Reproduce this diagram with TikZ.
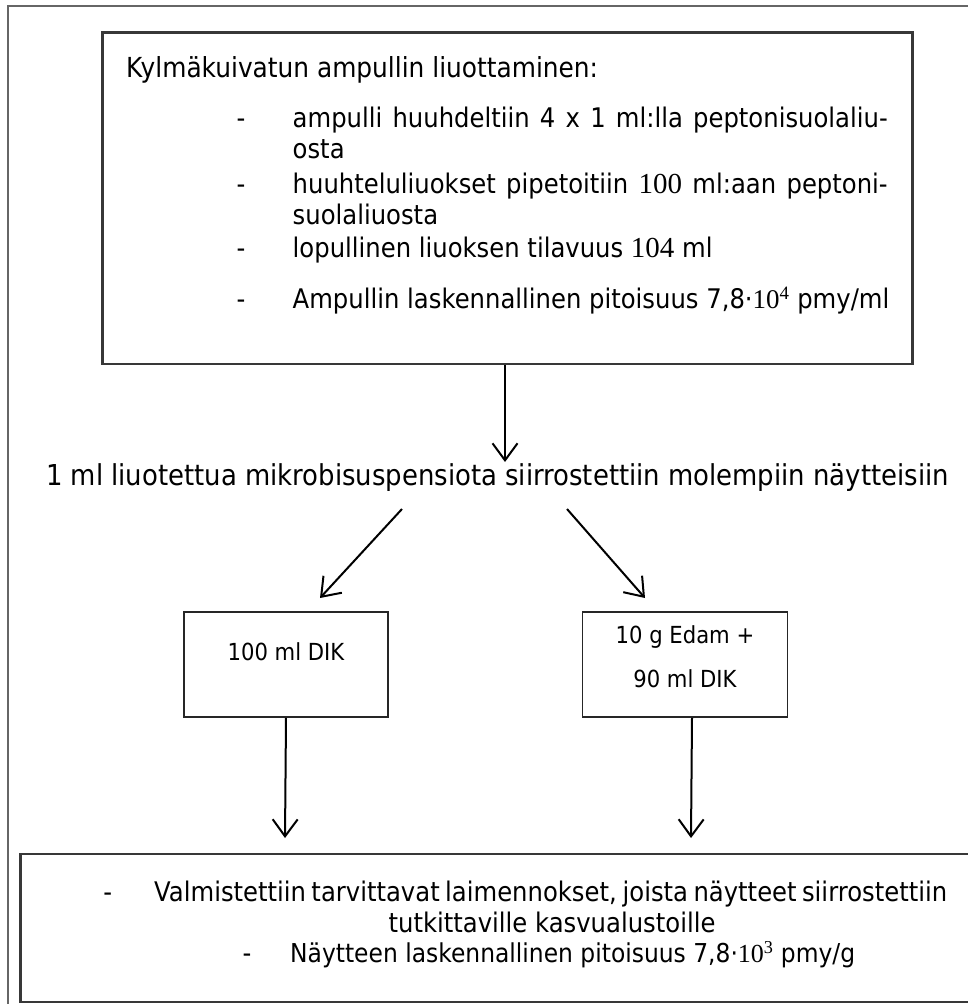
\documentclass[tikz,border=0pt]{standalone}
\usepackage{fontspec}
\setmainfont[FakeStretch=0.9]{DejaVu Sans}
\newfontfamily\tnr{Liberation Serif}
\usetikzlibrary{arrows.meta}
\begin{document}
\begin{tikzpicture}[x=1pt,y=-1pt,
  font=\fontsize{27}{32}\selectfont,
  frame/.style={draw=black!60, line width=1.5pt},
  bigbox/.style={draw=black!78, line width=2.8pt, inner sep=0pt},
  smallbox/.style={draw=black!85, line width=1.6pt, inner sep=0pt, minimum height=105pt},
  txt/.style={inner sep=0pt, anchor=mid west},
  ctxt/.style={inner sep=0pt, anchor=mid},
  sfont/.style={font=\fontsize{23.5}{28}\selectfont},
  arr/.style={draw=black, line width=2pt, -{Straight Barb[length=17pt,width=25pt,line width=2pt]}},
]
\useasboundingbox (0,0) rectangle (968,1004);
\fill[white] (0,0) rectangle (968,1004);
\draw[frame] (8,1010) -- (8,6) -- (975,6);

% top box
\node[bigbox, minimum width=809.6pt, minimum height=331.3pt] (top) at (507.5,198.35) {};
\node[txt, font=\fontsize{27.6}{32}\selectfont] (head) at (126,74.5) {Kylmäkuivatun ampullin liuottaminen:};
\node[ctxt] (d1) at (241,124.7) {-};
\node[txt] (l1) at (292.5,124.7) {\makebox[595pt][s]{ampulli huuhdeltiin 4 x 1 ml:lla peptonisuolaliu-}};
\node[txt] (l1b) at (292.5,156) {osta};
\node[ctxt] (d2) at (241,191) {-};
\node[txt] (l2) at (292.5,191) {\makebox[595pt][s]{huuhteluliuokset pipetoitiin {\tnr\fontsize{29}{32}\selectfont 100} ml:aan peptoni-}};
\node[txt] (l2b) at (292.5,222) {suolaliuosta};
\node[ctxt] (d3) at (241,255) {-};
\node[txt] (l3) at (292.5,255) {lopullinen liuoksen tilavuus {\tnr\fontsize{29}{32}\selectfont 104} ml};
\node[ctxt] (d4) at (241,306) {-};
\node[txt] (l4) at (292.5,306) {Ampullin laskennallinen pitoisuus 7,8·{\tnr 10}\textsuperscript{\tnr 4} pmy/ml};

% middle
\node[ctxt, font=\fontsize{28.8}{34}\selectfont] (mid) at (497.5,483) {1 ml liuotettua mikrobisuspensiota siirrostettiin molempiin näytteisiin};
\coordinate (a1) at (505,462);
\draw[arr] (top.south -| a1) -- (a1);

\coordinate (dl1) at (402,509);
\coordinate (dl2) at (320,598);
\coordinate (dr1) at (567,509);
\coordinate (dr2) at (645,598);
\draw[arr] (dl1) -- (dl2);
\draw[arr] (dr1) -- (dr2);

% small boxes
\node[smallbox, minimum width=204pt] (lb) at (286,664.5) {};
\node[ctxt, sfont] (lbt) at (286,658) {100 ml DIK};
\node[smallbox, minimum width=205pt] (rb) at (685,664.5) {};
\node[ctxt, sfont] (rbt1) at (685,641) {10 g Edam +};
\node[ctxt, sfont] (rbt2) at (685,685) {90 ml DIK};

\coordinate (bl) at (285,838);
\coordinate (br) at (691,838);
\draw[arr] (lb.south) -- (bl);
\draw[arr] ([xshift=7pt]rb.south) -- (br);

% bottom box
\node[bigbox, minimum width=954.3pt, minimum height=148pt] (bot) at (497.85,928) {};
\node[ctxt] (bd1) at (107.7,899) {-};
\node[txt] (b1) at (154,899) {\makebox[793pt][s]{Valmistettiin tarvittavat laimennokset, joista näytteet siirrostettiin}};
\node[ctxt] (b2) at (552,930) {tutkittaville kasvualustoille};
\node[ctxt] (bd3) at (247,960) {-};
\node[txt, font=\fontsize{26}{31}\selectfont] (b3) at (290,960) {Näytteen laskennallinen pitoisuus 7,8·{\tnr 10}\textsuperscript{\tnr 3} pmy/g};
\end{tikzpicture}
\end{document}
